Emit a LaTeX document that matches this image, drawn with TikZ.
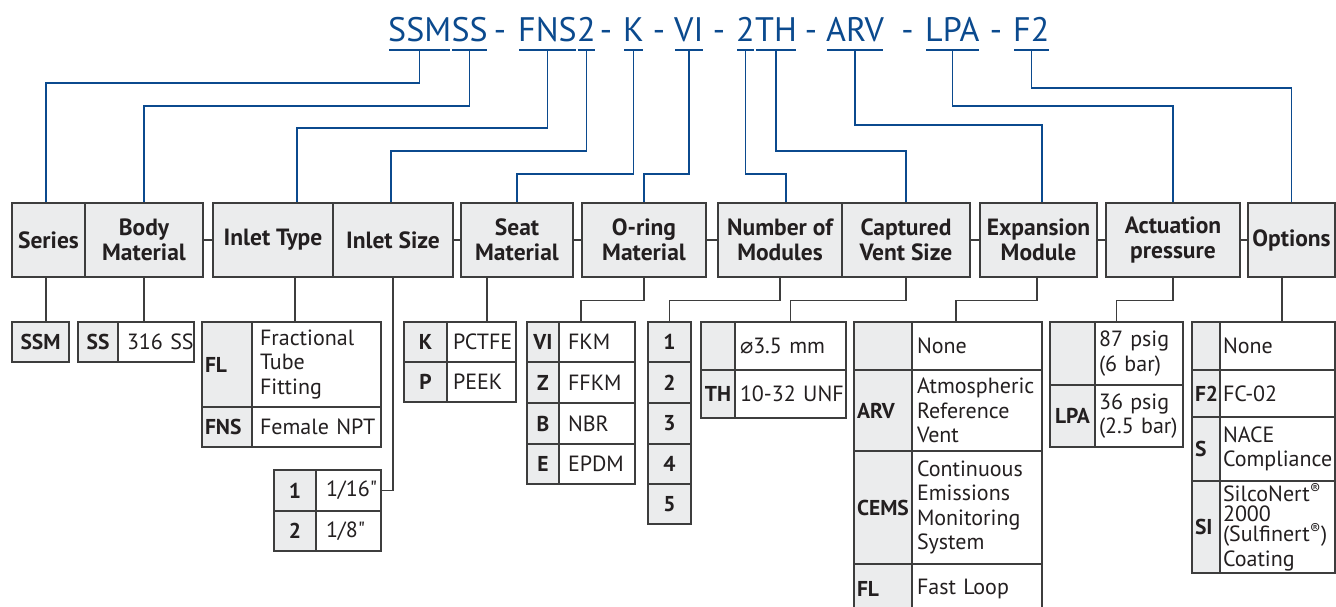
\documentclass[tikz,border=0pt]{standalone}
\usepackage{fontspec}
\setmainfont{PT Sans}
\newfontfamily\ptq{PT Sans}
\newfontfamily\dejavu{DejaVu Sans}
\usetikzlibrary{calc}
\definecolor{cblue}{HTML}{0B4A8E}
\definecolor{cgray}{HTML}{EBECED}
\definecolor{cline}{HTML}{3D3D3D}
\definecolor{ctext}{HTML}{231F20}
\tikzset{
  titlepart/.style={font=\fontsize{34}{40}\selectfont, text=cblue, inner sep=0pt, anchor=base west},
  hbox/.style={draw=cline, fill=cgray, line width=1.4pt, font=\bfseries\fontsize{23.5}{25}\selectfont, text=ctext, align=center, inner sep=0pt, minimum height=74pt},
  bline/.style={draw=cblue, line width=1.5pt},
  gline/.style={draw=cline, line width=1.3pt},
  kcell/.style={draw=cline, fill=cgray, line width=1.3pt, font=\bfseries\fontsize{21.5}{24.5}\selectfont, text=ctext, inner sep=0pt, align=center},
  vcell/.style={draw=cline, fill=white, line width=1.3pt, font=\fontsize{22}{24.5}\selectfont, text=ctext, inner ysep=0pt, align=left,
    execute at begin node={\hyphenpenalty=10000\exhyphenpenalty=10000\relax}},
  keyleft/.style={text width=\kvKT pt, align=left, inner xsep=3pt},
}
\def\vpad{7}
% #1 key style, #2 x1, #3 x2, #4 x3, #5 y1, #6 y2, #7 name, #8 key, #9 value
\newcommand\kvrow[9][]{%
  \pgfmathsetmacro\kvK{#3-#2}\pgfmathsetmacro\kvV{#4-#3}\pgfmathsetmacro\kvH{#6-#5}%
  \pgfmathsetmacro\kvT{#4-#3-2*\vpad}\pgfmathsetmacro\kvKT{#3-#2-6}%
  \node[kcell, minimum width=\kvK pt, minimum height=\kvH pt, #1] (#7k) at ({(#2+#3)/2},{(#5+#6)/2}) {#8};
  \node[vcell, minimum width=\kvV pt, minimum height=\kvH pt, text width=\kvT pt, inner xsep=\vpad pt] (#7v) at ({(#3+#4)/2},{(#5+#6)/2}) {#9};
}
\begin{document}
\begin{tikzpicture}[x=1pt,y=-1pt]
\useasboundingbox (0,0) rectangle (1336,607);
\clip (0,0) rectangle (1336,607);

% ---------- title code ----------
\node[titlepart] (cSSM) at (388,42) {SSM};
\node[titlepart] (cSS) at (cSSM.base east) {SS};
\node[titlepart, anchor=base] (d1) at (500,42) {-};
\node[titlepart] (cFNS) at (518,42) {FNS};
\node[titlepart] (c2a) at (cFNS.base east) {2};
\node[titlepart, anchor=base] (d2) at (606,42) {-};
\node[titlepart] (cK) at (623,42) {K};
\node[titlepart, anchor=base] (d3) at (659,42) {-};
\node[titlepart] (cVI) at (674,42) {VI};
\node[titlepart, anchor=base] (d4) at (719,42) {-};
\node[titlepart] (c2b) at (736,42) {2};
\node[titlepart] (cTH) at (c2b.base east) {TH};
\node[titlepart, anchor=base] (d5) at (811,42) {-};
\node[titlepart] (cARV) at (826,42) {ARV};
\node[titlepart, anchor=base] (d6) at (907.5,42) {-};
\node[titlepart] (cLPA) at (925,42) {LPA};
\node[titlepart, anchor=base] (d7) at (996,42) {-};
\node[titlepart] (cF2) at (1013,42) {F2};
\foreach \n in {cSSM,cSS,cFNS,c2a,cK,cVI,c2b,cTH,cARV,cLPA,cF2}
  \draw[bline] ([shift={(1,8)}]\n.base west) -- ([shift={(-1,8)}]\n.base east);

% ---------- header boxes ----------
\node[hbox, minimum width=73pt] (hSeries) at (48.5,240) {Series};
\node[hbox, minimum width=118pt] (hBody) at (144,240) {Body\\Material};
\node[hbox, minimum width=120pt] (hInT) at (273,240) {Inlet Type};
\node[hbox, minimum width=120pt] (hInS) at (393,240) {Inlet Size};
\node[hbox, minimum width=112pt] (hSeat) at (517,240) {Seat\\Material};
\node[hbox, minimum width=124pt] (hOring) at (644,240) {O-ring\\Material};
\node[hbox, minimum width=124pt] (hNum) at (780,240) {Number of\\Modules};
\node[hbox, minimum width=128pt] (hCap) at (906,240) {Captured\\Vent Size};
\node[hbox, minimum width=117pt] (hExp) at (1038.5,240) {Expansion\\Module};
\node[hbox, minimum width=134pt] (hAct) at (1173,240) {Actuation\\pressure};
\node[hbox, minimum width=87pt] (hOpt) at (1291.5,240) {Options};

\draw[gline] (hBody.east) -- (hInT.west);
\draw[gline] (hInS.east) -- (hSeat.west);
\draw[gline] (hSeat.east) -- (hOring.west);
\draw[gline] (hOring.east) -- (hNum.west);
\draw[gline] (hCap.east) -- (hExp.west);
\draw[gline] (hExp.east) -- (hAct.west);
\draw[gline] (hAct.east) -- (hOpt.west);

% ---------- blue connectors ----------
\draw[bline] ([yshift=-8pt]cSSM.base) -- ++(0,33) -| ([xshift=-2.5pt]hSeries.north);
\draw[bline] ([yshift=-8pt]cSS.base) -- ++(0,56) -| (hBody.north);
\draw[bline] ([yshift=-8pt]cFNS.base) -- ++(0,78) -| ([xshift=24pt]hInT.north);
\draw[bline] ([yshift=-8pt]c2a.base) -- ++(0,101) -| ([xshift=-2pt]hInS.north);
\draw[bline] ([yshift=-8pt]cK.base) -- ++(0,124) -| (hSeat.north);
\draw[bline] ([yshift=-8pt]cVI.base) -- ++(0,124) -| (hOring.north);
\draw[bline] ([yshift=-8pt]c2b.base) -- ++(0,124) -| ([xshift=6pt]hNum.north);
\draw[bline] ([yshift=-8pt]cTH.base) -- ++(0,101) -| (hCap.north);
\draw[bline] ([yshift=-8pt]cARV.base) -- ++(0,75) -| ([xshift=3.5pt]hExp.north);
\draw[bline] ([yshift=-8pt]cLPA.base) -- ++(0,56) -| (hAct.north);
\draw[bline] ([yshift=-8pt]cF2.base) -- ++(0,38) -| (hOpt.north);

% ---------- option tables ----------
\node[kcell, minimum width=57pt, minimum height=40pt] (tSSM) at (40.5,342) {SSM};

\def\vpad{9}
\kvrow{78}{118}{194}{322}{362}{ss}{SS}{\mbox{316 SS}}

\def\vpad{8}
\kvrow[keyleft]{202}{252}{381}{322}{407}{fl}{FL}{Fractional\\Tube\\Fitting}
\kvrow[keyleft]{202}{252}{381}{407}{447}{fns}{FNS}{\mbox{Female NPT}}

\def\vpad{10}
\kvrow{274}{316}{381}{470}{511}{sa}{1}{1/16{\ptq"}}
\kvrow{274}{316}{381}{511}{551}{sb}{2}{1/8{\ptq"}}

\def\vpad{6}
\kvrow{404}{447}{516}{322}{362}{kk}{K}{PCTFE}
\kvrow{404}{447}{516}{362}{402}{kp}{P}{PEEK}

\def\vpad{9}
\kvrow{527}{559}{635}{322}{362}{oa}{VI}{FKM}
\kvrow{527}{559}{635}{362}{403}{ob}{Z}{FFKM}
\kvrow{527}{559}{635}{403}{444}{oc}{B}{NBR}
\kvrow{527}{559}{635}{444}{484}{od}{E}{EPDM}

\node[kcell, minimum width=43pt, minimum height=40pt] (n1) at (669.5,342) {1};
\node[kcell, minimum width=43pt, minimum height=41pt] (n2) at (669.5,382.5) {2};
\node[kcell, minimum width=43pt, minimum height=41pt] (n3) at (669.5,423.5) {3};
\node[kcell, minimum width=43pt, minimum height=40pt] (n4) at (669.5,464) {4};
\node[kcell, minimum width=43pt, minimum height=40pt] (n5) at (669.5,504) {5};

\def\vpad{5}
\kvrow{701}{735}{846}{322}{370}{cva}{}{{\dejavu ⌀}3.5 mm}
\kvrow{701}{735}{846}{370}{418}{cvb}{TH}{\mbox{10-32 UNF}}

\def\vpad{5}
\kvrow[keyleft]{854}{912}{1042}{322}{370}{exa}{}{None}
\kvrow[keyleft]{854}{912}{1042}{370}{451}{exb}{ARV}{Atmospheric\\Reference\\Vent}
\kvrow[keyleft]{854}{912}{1042}{451}{564}{exc}{CEMS}{Continuous\\Emissions\\Monitoring\\System}
\kvrow[keyleft]{854}{912}{1042}{564}{614}{exd}{FL}{Fast Loop}

\def\vpad{4}
\kvrow{1050}{1095}{1183}{322}{385}{aca}{}{87 psig\\(6 bar)}
\kvrow{1050}{1095}{1183}{385}{447}{acb}{LPA}{36 psig\\(2.5 bar)}

\def\vpad{3}
\kvrow[keyleft]{1192}{1220}{1335}{322}{370}{opa}{}{None}
\kvrow[keyleft]{1192}{1220}{1335}{370}{417}{opb}{F2}{FC-02}
\kvrow[keyleft]{1192}{1220}{1335}{417}{481}{opc}{S}{NACE\\Compliance}
\kvrow[keyleft]{1192}{1220}{1335}{481}{573}{opd}{SI}{\fontsize{22}{20}\selectfont SilcoNert\textsuperscript{®}\\2000\\(Sulfinert\textsuperscript{®})\\Coating}

% ---------- grey connectors ----------
\draw[gline] ([xshift=-2.5pt]hSeries.south) -- ++(0,45);
\draw[gline] (hBody.south) -- ++(0,45);
\draw[gline] ([xshift=22pt]hInT.south) -- ++(0,45);
\draw[gline] (hInS.south) |- (sav.east);
\draw[gline] ([xshift=-30pt]hSeat.south) -- ++(0,45);
\draw[gline] (hOring.south) -- ++(0,23) -| ($(oak.north west)!0.5!(oav.north east)$);
\draw[gline] (hNum.south) -- ++(0,23) -| (n1.north);
\draw[gline] (hCap.south) -- ++(0,23) -| (cvav.north);
\draw[gline] ([xshift=-1.5pt]hExp.south) -- ++(0,23) -| ([xshift=-21pt]exav.north);
\draw[gline] (hAct.south) -- ++(0,23) -| ($(acak.north west)!0.5!(acav.north east)$);
\draw[gline] ([xshift=-9.5pt]hOpt.south) -- ++(0,45);
\end{tikzpicture}
\end{document}
